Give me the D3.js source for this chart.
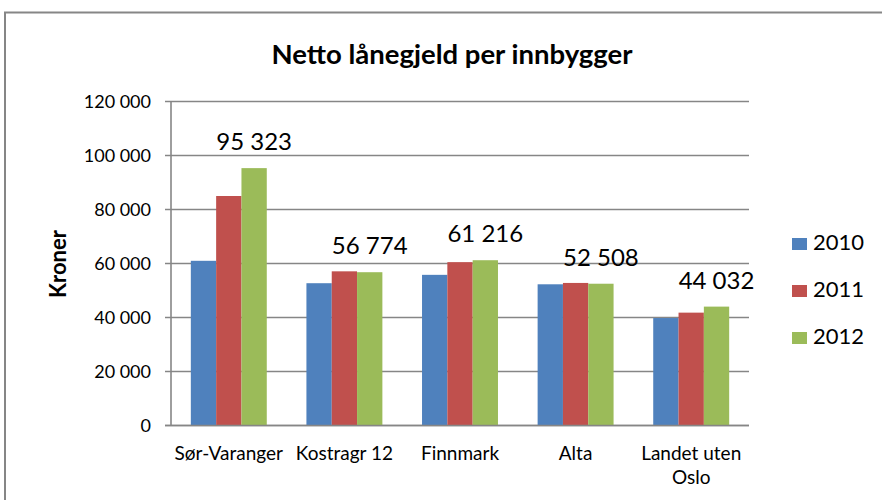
<!DOCTYPE html>
<html><head><meta charset="utf-8">
<script src="https://cdn.jsdelivr.net/npm/d3@7"></script>
<style>body{margin:0;background:#fff}svg{display:block;font-family:Lato,"Open Sans",sans-serif}</style>
</head><body><svg id="c" width="882" height="500"></svg>
<script>
const categories = ["Sør-Varanger", "Kostragr 12", "Finnmark", "Alta", "Landet uten Oslo"];
const seriesNames = ["2010", "2011", "2012"];
const values2010 = [61000, 52700, 55800, 52300, 39800];
const values2011 = [85000, 57100, 60500, 52800, 41800];
const values2012 = [95323, 56774, 61216, 52508, 44032];
const colors = ["#4F81BD", "#C0504D", "#9BBB59"];
const yTicks = [0, 20000, 40000, 60000, 80000, 100000, 120000];

const series = [values2010, values2011, values2012];
const svg = d3.select("#c");
const fmt = v => d3.format(",")(v).replace(/,/g, " ");

svg.append("rect").attr("x", 5).attr("y", 12.5).attr("width", 900).attr("height", 520)
  .attr("fill", "#fff").attr("stroke", "#868686").attr("stroke-width", 2);

const m = {left: 171, right: 749, top: 101.5, bottom: 425.5};
const x0 = d3.scaleBand().domain(categories).range([m.left, m.right]).paddingInner(0.343).paddingOuter(0.1715);
const x1 = d3.scaleBand().domain(seriesNames).range([0, x0.bandwidth()]);
const y = d3.scaleLinear().domain([0, 120000]).range([m.bottom, m.top]);

// gridlines
svg.append("g").selectAll("line").data(yTicks).join("line")
  .attr("x1", m.left - 6).attr("x2", m.right)
  .attr("y1", d => y(d)).attr("y2", d => y(d))
  .attr("stroke", "#868686").attr("stroke-width", 1.6);
// y axis line
svg.append("line").attr("x1", m.left).attr("x2", m.left).attr("y1", m.top).attr("y2", m.bottom)
  .attr("stroke", "#868686").attr("stroke-width", 1.6);

// y labels
svg.append("g").selectAll("text").data(yTicks).join("text")
  .attr("x", 151).attr("y", d => y(d)).attr("dy", "0.35em")
  .attr("text-anchor", "end").attr("font-size", 18).attr("fill", "#000")
  .text(d => fmt(d));

// bars
const g = svg.append("g");
categories.forEach((c, i) => {
  seriesNames.forEach((s, j) => {
    g.append("rect")
      .attr("x", x0(c) + x1(s)).attr("width", x1.bandwidth())
      .attr("y", y(series[j][i])).attr("height", y(0) - y(series[j][i]))
      .attr("fill", colors[j]);
  });
});
// redraw baseline over bars
svg.append("line").attr("x1", m.left - 6).attr("x2", m.right).attr("y1", y(0)).attr("y2", y(0))
  .attr("stroke", "#868686").attr("stroke-width", 1.6);

// data labels on 2012
svg.append("g").selectAll("text").data(categories).join("text")
  .attr("x", (c) => x0(c) + x1("2012") + x1.bandwidth() / 2)
  .attr("y", (c, i) => y(values2012[i]) - 18)
  .attr("text-anchor", "middle").attr("font-size", 24).attr("fill", "#000")
  .text((c, i) => fmt(values2012[i]));

// x labels
const xl = svg.append("g").selectAll("text").data(categories).join("text")
  .attr("x", c => x0(c) + x0.bandwidth() / 2).attr("y", 460)
  .attr("text-anchor", "middle").attr("font-size", 19).attr("fill", "#000");
xl.each(function(c) {
  const t = d3.select(this);
  const lines = c === "Landet uten Oslo" ? ["Landet uten", "Oslo"] : [c];
  lines.forEach((l, k) => t.append("tspan").attr("x", x0(c) + x0.bandwidth() / 2).attr("dy", k ? 24 : 0).text(l));
});

// title
svg.append("text").attr("x", 452).attr("y", 64).attr("text-anchor", "middle")
  .attr("font-size", 27.5).attr("font-weight", "bold").text("Netto lånegjeld per innbygger");
// y axis title
svg.append("text").attr("transform", "translate(66,264) rotate(-90)").attr("text-anchor", "middle")
  .attr("font-size", 22).attr("font-weight", "bold").text("Kroner");

// legend
const lg = svg.append("g").selectAll("g").data(seriesNames).join("g")
  .attr("transform", (d, i) => `translate(792,${244 + i * 47})`);
lg.append("rect").attr("x", 0).attr("y", -6).attr("width", 15).attr("height", 12).attr("fill", (d, i) => colors[i]);
lg.append("text").attr("x", 21).attr("y", 6).attr("font-size", 22).text(d => d);
</script></body></html>
